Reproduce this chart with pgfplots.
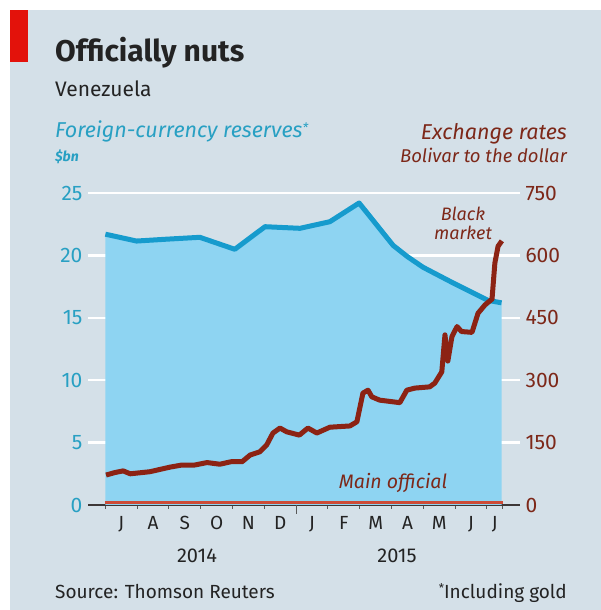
\documentclass[border=0pt]{standalone}
\usepackage{pgfplots}
\pgfplotsset{compat=1.18}
\usepackage{fontspec}
\setmainfont{Fira Sans}
\definecolor{bgc}{RGB}{212,224,232}
\definecolor{ered}{RGB}{227,18,11}
\definecolor{areac}{RGB}{142,212,242}
\definecolor{resc}{RGB}{22,155,205}
\definecolor{tealc}{RGB}{40,160,195}
\definecolor{rustc}{RGB}{125,40,25}
\definecolor{bmc}{RGB}{140,35,20}
\definecolor{offc}{RGB}{205,75,55}
\definecolor{axisc}{RGB}{60,55,55}
\definecolor{textc}{RGB}{35,35,35}
\begin{document}
\begin{tikzpicture}[x=1pt,y=1pt]
\fill[white] (0,0) rectangle (601,610);
\fill[bgc] (10,0) rectangle (601,600);
\fill[ered] (10,600) rectangle (28,548);
\node[anchor=base west, inner sep=0, text=textc, font=\bfseries\fontsize{30}{30}\selectfont] at (55,548) {Officially nuts};
\node[anchor=base west, inner sep=0, text=textc, font=\fontsize{21}{21}\selectfont] at (55,513) {Venezuela};
\node[anchor=base west, inner sep=0, text=tealc, font=\itshape\fontsize{21.5}{21.5}\selectfont] at (55,472) {Foreign-currency reserves\raisebox{0.5ex}{\fontsize{13}{13}\selectfont*}};
\node[anchor=base west, inner sep=0, text=tealc, font=\bfseries\itshape\fontsize{14}{14}\selectfont] at (55,448) {\$bn};
\node[anchor=base east, inner sep=0, text=rustc, font=\itshape\fontsize{21.5}{21.5}\selectfont] at (567,470) {Exchange rates};
\node[anchor=base east, inner sep=0, text=rustc, font=\itshape\fontsize{18.5}{18.5}\selectfont] at (567,447) {Bolivar to the dollar};
\node[anchor=base west, inner sep=0, text=textc, font=\fontsize{19}{19}\selectfont] at (55,12) {Source: Thomson Reuters};
\node[anchor=base east, inner sep=0, text=textc, font=\fontsize{19}{19}\selectfont] at (567,12) {\raisebox{0.5ex}{\fontsize{12}{12}\selectfont*}Including gold};
\node[anchor=base, inner sep=0, text=textc, font=\fontsize{20}{20}\selectfont] at (197,47) {2014};
\node[anchor=base, inner sep=0, text=textc, font=\fontsize{20}{20}\selectfont] at (397,47) {2015};

\begin{axis}[
  at={(88pt,105pt)}, anchor=south west, scale only axis,
  width=432pt, height=312pt,
  xmin=-0.547, xmax=13.04, ymin=0, ymax=25,
  axis x line*=bottom, axis y line*=left,
  x axis line style={draw=axisc, line width=1.3pt, -},
  y axis line style={draw=none},
  ymajorgrids, grid style={white, line width=2.5pt},
  ytick={0,5,...,25},
  major tick length=0pt,
  tick align=outside,
  xtick={0.5,1.5,2.5,3.5,4.5,5.5,6.5,7.5,8.5,9.5,10.5,11.5,12.25},
  xticklabels={J,A,S,O,N,D,J,F,M,A,M,J,J},
  minor xtick={0,1,2,3,4,5,7,8,9,10,11,12,12.5},
  minor tick length=4pt,
  minor tick style={draw=gray!70!black, line width=1pt},
  extra x ticks={6}, extra x tick labels={},
  extra x tick style={major tick length=9pt, tick style={draw=gray!70!black, line width=1.2pt}},
  xticklabel style={text=textc, font=\fontsize{19}{19}\selectfont, yshift=-8pt},
  yticklabel style={text=tealc, font=\fontsize{21}{21}\selectfont, xshift=-2pt},
  /pgf/number format/assume math mode=true,
]
\addplot[fill=areac, draw=none] coordinates {
(0,21.7)(0.98,21.15)(1.93,21.3)(2.97,21.45)(4.07,20.49)(5.02,22.3)(6.12,22.17)(7.06,22.7)(7.98,24.2)(9.05,20.8)(9.5,19.9)(9.99,19.05)(10.93,17.8)(12.03,16.4)(12.46,16.2)
} \closedcycle;
\addplot[resc, line width=5pt, line join=round] coordinates {
(0,21.7)(0.98,21.15)(1.93,21.3)(2.97,21.45)(4.07,20.49)(5.02,22.3)(6.12,22.17)(7.06,22.7)(7.98,24.2)(9.05,20.8)(9.5,19.9)(9.99,19.05)(10.93,17.8)(12.03,16.4)(12.46,16.2)
};
\end{axis}

\begin{axis}[
  at={(88pt,105pt)}, anchor=south west, scale only axis,
  width=432pt, height=312pt,
  xmin=-0.547, xmax=13.04, ymin=0, ymax=750,
  axis x line=none, axis y line*=right,
  y axis line style={draw=none},
  ytick={0,150,...,750},
  major tick length=0pt,
  yticklabel style={text=rustc, font=\fontsize{21}{21}\selectfont, xshift=2pt},
  /pgf/number format/assume math mode=true,
]
\addplot[offc, line width=3pt] coordinates {(0,5)(12.5,5)};
\addplot[bmc, line width=5pt, line join=round] coordinates {
(0.02,72)(0.3,78)(0.56,82)(0.78,75)(1.4,80)(2.03,91)(2.4,96)(2.8,96)(3.2,102)(3.6,98)(3.95,104)(4.3,104)(4.55,120)(4.86,128)(5.07,144)(5.27,173)(5.49,185)(5.7,176)(6.1,168)(6.37,185)(6.65,173)(7.06,187)(7.69,190)(7.91,200)(8.1,269)(8.26,276)(8.38,260)(8.63,252)(9.26,246)(9.48,276)(9.73,281)(10.2,284)(10.36,293)(10.58,320)(10.68,409)(10.77,346)(10.9,405)(11.06,429)(11.2,417)(11.53,415)(11.72,461)(11.94,481)(12.16,495)(12.25,582)(12.35,622)(12.47,635)
};
\end{axis}

\node[anchor=base, inner sep=0, text=rustc, font=\itshape\fontsize{18}{18}\selectfont] at (463,389) {Black};
\node[anchor=base, inner sep=0, text=rustc, font=\itshape\fontsize{18}{18}\selectfont] at (463,370) {market};
\node[anchor=base, inner sep=0, text=rustc, font=\itshape\fontsize{19.5}{19.5}\selectfont] at (393,121) {Main official};
\end{tikzpicture}
\end{document}
